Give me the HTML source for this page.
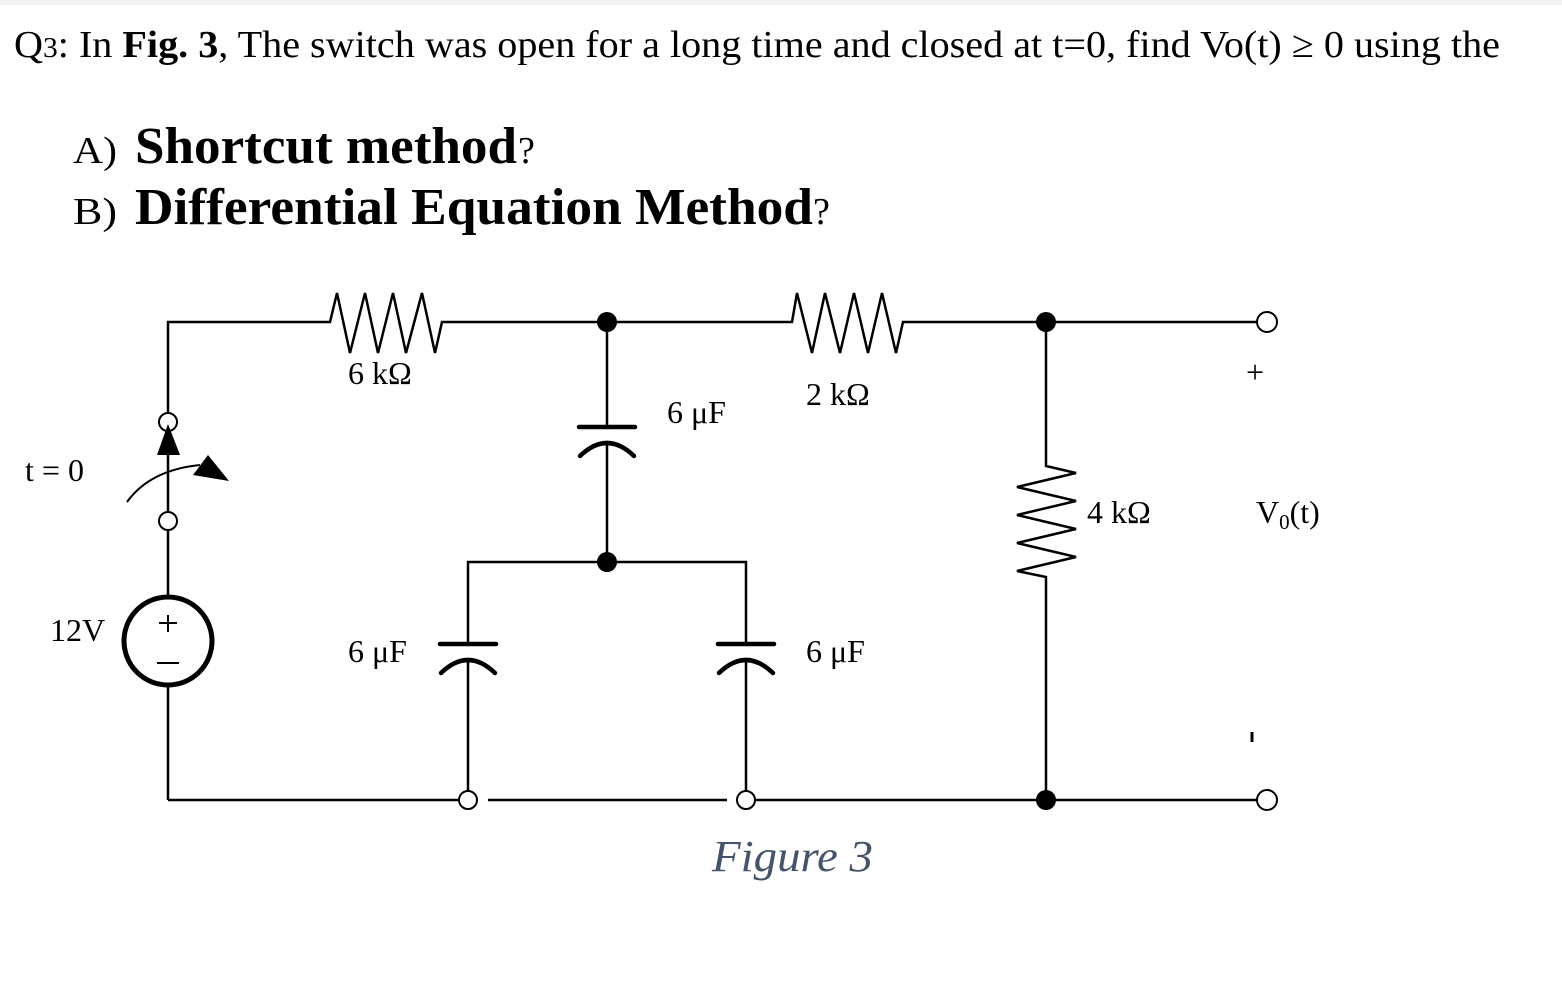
<!DOCTYPE html>
<html><head><meta charset="utf-8"><style>
html,body{margin:0;padding:0;background:#fff}
svg{display:block}
text{font-family:"Liberation Serif",serif;fill:#000}
</style></head><body>
<svg width="1562" height="985" viewBox="0 0 1562 985" xmlns="http://www.w3.org/2000/svg">
<rect x="0" y="0" width="1562" height="5" fill="#f2f2f2"/>
<text x="14" y="57" font-size="38" textLength="1486" lengthAdjust="spacingAndGlyphs">Q<tspan font-size="28">3</tspan>: In <tspan font-weight="bold">Fig. 3</tspan>, The switch was open for a long time and closed at t=0, find Vo(t) ≥ 0 using the</text>
<text x="73" y="163" font-size="38" textLength="44" lengthAdjust="spacingAndGlyphs">A)</text>
<text x="135" y="163" font-size="52" font-weight="bold" textLength="382" lengthAdjust="spacingAndGlyphs">Shortcut method</text>
<text x="518" y="163" font-size="38">?</text>
<text x="73" y="224" font-size="38" textLength="44" lengthAdjust="spacingAndGlyphs">B)</text>
<text x="135" y="224" font-size="52" font-weight="bold" textLength="678" lengthAdjust="spacingAndGlyphs">Differential Equation Method</text>
<text x="813" y="224" font-size="38">?</text>

<g fill="none" stroke="#000" stroke-width="2.5">
<polyline points="168,412 168,322 330,322 337,293 350,353 365,293 378,353 393,293 406,353 422,293 435,353 442,322 792,322 797,293 812,353 825,293 840,353 854,293 868,353 882,293 896,353 903,322 1257,322"/>
<line x1="168" y1="432" x2="168" y2="511"/>
<line x1="168" y1="531" x2="168" y2="597"/>
<circle cx="168" cy="422" r="9" stroke-width="2"/>
<circle cx="168" cy="521" r="9" stroke-width="2"/>
<path d="M127,502 Q150,470 200,465" stroke-width="2"/>
<circle cx="168" cy="641" r="44" stroke-width="5"/>
<line x1="168" y1="685" x2="168" y2="800"/>
<line x1="168" y1="615" x2="168" y2="632" stroke-width="2"/>
<line x1="159" y1="623" x2="177" y2="623" stroke-width="2"/>
<line x1="157" y1="663" x2="179" y2="663" stroke-width="2"/>
<line x1="168" y1="800" x2="459" y2="800"/>
<line x1="488" y1="800" x2="727" y2="800"/>
<line x1="755" y1="800" x2="1257" y2="800"/>
<circle cx="468" cy="800" r="9" stroke-width="2"/>
<circle cx="746" cy="800" r="9" stroke-width="2"/>
<line x1="607" y1="322" x2="607" y2="427"/>
<line x1="607" y1="443" x2="607" y2="562"/>
<line x1="579" y1="427" x2="635" y2="427" stroke-width="4.5" stroke-linecap="round"/>
<path d="M580,456 Q607,430 634,456" stroke-width="4.5" stroke-linecap="round"/>
<polyline points="468,644 468,562 746,562 746,644"/>
<line x1="468" y1="660" x2="468" y2="791"/>
<line x1="746" y1="660" x2="746" y2="791"/>
<line x1="440" y1="644" x2="496" y2="644" stroke-width="4.5" stroke-linecap="round"/>
<path d="M441,673 Q468,647 495,673" stroke-width="4.5" stroke-linecap="round"/>
<line x1="718" y1="644" x2="774" y2="644" stroke-width="4.5" stroke-linecap="round"/>
<path d="M719,673 Q746,647 773,673" stroke-width="4.5" stroke-linecap="round"/>
<polyline points="1046,322 1046,466 1076,473 1017,487 1076,501 1017,515 1076,529 1017,543 1076,557 1017,571 1046,577 1046,800"/>
<circle cx="1267" cy="322" r="10" stroke-width="2"/>
<circle cx="1267" cy="800" r="10" stroke-width="2"/>
</g>
<polygon points="168,424 157,455 180,455" fill="#000"/>
<polygon points="193,475 208,455 229,481" fill="#000"/>
<g fill="#000">
<circle cx="607" cy="322" r="10"/>
<circle cx="607" cy="562" r="10"/>
<circle cx="1046" cy="322" r="10"/>
<circle cx="1046" cy="800" r="10"/>
</g>
<g font-size="32">
<text x="348" y="384">6 kΩ</text>
<text x="806" y="405">2 kΩ</text>
<text x="667" y="423">6 μF</text>
<text x="348" y="662">6 μF</text>
<text x="806" y="662">6 μF</text>
<text x="1087" y="523">4 kΩ</text>
<text x="1256" y="523">V<tspan font-size="21" dy="6">0</tspan><tspan dy="-6">(t)</tspan></text>
<text x="25" y="481">t = 0</text>
<text x="50" y="641">12V</text>
<text x="1246" y="383">+</text>
</g>
<line x1="1252" y1="732" x2="1252" y2="742" stroke="#000" stroke-width="3"/>
<text x="712" y="871" font-size="44" font-style="italic" style="fill:#44546a" textLength="161" lengthAdjust="spacingAndGlyphs">Figure 3</text>
</svg>
</body></html>
